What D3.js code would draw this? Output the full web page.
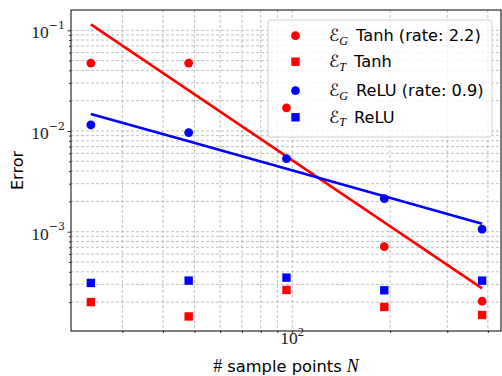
<!DOCTYPE html>
<html><head><meta charset="utf-8">
<script src="https://cdn.jsdelivr.net/npm/d3@7"></script>
<style>body{margin:0;background:#fff}svg{display:block}</style>
</head><body><svg id="c" width="502" height="376"></svg>
<script>
const N = [24, 48, 96, 192, 384];
const egTanh = [0.0473, 0.0473, 0.0170, 0.00071, 0.000204];
const etTanh = [0.000200, 0.000144, 0.000264, 0.000179, 0.000149];
const egRelu = [0.01148, 0.00964, 0.00532, 0.00213, 0.00106];
const etRelu = [0.000310, 0.000327, 0.000350, 0.000262, 0.000327];
const legendNames = ["Tanh (rate: 2.2)", "Tanh", "ReLU (rate: 0.9)", "ReLU"];
const legendSubs = ["G", "T", "G", "T"];
const yMajor = [1e-3, 1e-2, 1e-1];
const yMajorExp = ["\u22123", "\u22122", "\u22121"];
const xMajor = [100];
const xMajorExp = ["2"];

const svg = d3.select("#c");
const L = 71, R = 501, T = 10, B = 331;
const x = d3.scaleLog().domain([20.85, 439]).range([L, R]);
const y = d3.scaleLog().domain([1.033e-4, 0.1591]).range([B, T]);
const RED = "#ff0000", BLUE = "#0000ff";

function minors(lo, hi) {
  const out = [];
  for (let e = Math.floor(Math.log10(lo)); e <= Math.ceil(Math.log10(hi)); e++) {
    for (let k = 2; k <= 9; k++) { const v = k * Math.pow(10, e); if (v >= lo && v <= hi) out.push(v); }
  }
  return out;
}
const xMinor = minors(20.85, 439);
const yMinor = minors(1.033e-4, 0.1591);

// grid
const grid = svg.append("g").attr("stroke", "#b0b0b0").attr("stroke-width", 0.8).attr("stroke-dasharray", "3,2");
xMinor.concat(xMajor).forEach(v => grid.append("line").attr("x1", x(v)).attr("x2", x(v)).attr("y1", T).attr("y2", B));
yMinor.concat(yMajor).forEach(v => grid.append("line").attr("y1", y(v)).attr("y2", y(v)).attr("x1", L).attr("x2", R));

// axes ticks
svg.append("g").attr("transform", `translate(0,${B})`)
  .call(d3.axisBottom(x).tickValues(xMajor).tickSize(3.5).tickFormat("")).call(g => g.select(".domain").remove());
svg.append("g").attr("transform", `translate(0,${B})`)
  .call(d3.axisBottom(x).tickValues(xMinor).tickSize(2).tickFormat("")).call(g => g.select(".domain").remove());
svg.append("g").attr("transform", `translate(${L},0)`)
  .call(d3.axisLeft(y).tickValues(yMajor).tickSize(3.5).tickFormat("")).call(g => g.select(".domain").remove());
svg.append("g").attr("transform", `translate(${L},0)`)
  .call(d3.axisLeft(y).tickValues(yMinor).tickSize(2).tickFormat("")).call(g => g.select(".domain").remove());
svg.selectAll(".tick line").attr("stroke", "#000").attr("stroke-width", 0.8);

// frame
svg.append("rect").attr("x", L).attr("y", T).attr("width", R - L).attr("height", B - T)
  .attr("fill", "none").attr("stroke", "#000").attr("stroke-width", 1);

// tick labels
const serif = "'Liberation Serif','DejaVu Serif',serif";
yMajor.forEach((v, i) => {
  const t = svg.append("text").attr("x", 65).attr("y", y(v) + 8).attr("text-anchor", "end")
    .attr("font-family", serif).attr("font-size", 17.5).attr("fill", "#222");
  t.append("tspan").text("10");
  t.append("tspan").attr("dy", -9.5).attr("font-family", "'DejaVu Serif',serif").attr("font-size", 11).text(yMajorExp[i]);
});
xMajor.forEach((v, i) => {
  const t = svg.append("text").attr("x", x(v)).attr("y", B + 13).attr("text-anchor", "middle")
    .attr("font-family", serif).attr("font-size", 17.5).attr("fill", "#222");
  t.append("tspan").text("10");
  t.append("tspan").attr("dy", -8).attr("font-size", 12.5).text(xMajorExp[i]);
});

// axis labels
const sans = "'DejaVu Sans',sans-serif";
svg.append("text").attr("transform", `translate(22.5,${(T + B) / 2}) rotate(-90)`).attr("text-anchor", "middle")
  .attr("font-family", sans).attr("font-size", 16).text("Error");
const xl = svg.append("text").attr("x", (L + R) / 2).attr("y", 371.5).attr("text-anchor", "middle")
  .attr("font-family", sans).attr("font-size", 16.3);
xl.append("tspan").attr("font-family", serif).attr("font-size", 18).text("#");
xl.append("tspan").text(" sample points ");
xl.append("tspan").attr("font-family", serif).attr("font-style", "italic").attr("font-size", 18).text("N");

// legend box
const lg = svg.append("g");
lg.append("rect").attr("x", 268).attr("y", 20).attr("width", 224).attr("height", 117).attr("rx", 3)
  .attr("fill", "#fff").attr("fill-opacity", 0.8).attr("stroke", "#d0d0d0").attr("stroke-width", 1);
const rowsY = [35.7, 61.7, 90.7, 117.3];
const rowColor = [RED, RED, BLUE, BLUE];
const rowShape = ["c", "s", "c", "s"];
rowsY.forEach((ry, i) => {
  if (rowShape[i] === "c") lg.append("circle").attr("cx", 295.5).attr("cy", ry).attr("r", 4.4).attr("fill", rowColor[i]);
  else lg.append("rect").attr("x", 295.5 - 4.2).attr("y", ry - 4.2).attr("width", 8.4).attr("height", 8.4).attr("fill", rowColor[i]);
  const t = lg.append("text").attr("x", 329).attr("y", ry + 5.5).attr("font-family", sans).attr("font-size", 16.2).attr("fill", "#000");
  t.append("tspan").attr("font-family", "'DejaVu Sans',serif").attr("font-size", 17).text("\u2130");
  t.append("tspan").attr("dy", 3.5).attr("font-family", serif).attr("font-style", "italic").attr("font-size", 12).text(legendSubs[i]);
  t.append("tspan").attr("dy", -3.5).text("\u2002" + legendNames[i]);
});

// fit lines (least squares in log-log)
function fit(vals) {
  const lx = N.map(Math.log10), ly = vals.map(Math.log10);
  const mx = d3.mean(lx), my = d3.mean(ly);
  const s = d3.sum(lx, (v, i) => (v - mx) * (ly[i] - my)) / d3.sum(lx, v => (v - mx) ** 2);
  return N.map(n => Math.pow(10, my + s * (Math.log10(n) - mx)));
}
const line = d3.line().x(d => x(d[0])).y(d => y(d[1]));
[[egTanh, RED], [egRelu, BLUE]].forEach(([vals, col]) => {
  const f = fit(vals);
  svg.append("path").datum(N.map((n, i) => [n, f[i]])).attr("d", line)
    .attr("fill", "none").attr("stroke", col).attr("stroke-width", 2.6);
});

// markers
[[egTanh, RED], [egRelu, BLUE]].forEach(([vals, col]) => {
  svg.append("g").selectAll("circle").data(N).join("circle")
    .attr("cx", d => x(d)).attr("cy", (d, i) => y(vals[i])).attr("r", 4.4).attr("fill", col);
});
[[etTanh, RED], [etRelu, BLUE]].forEach(([vals, col]) => {
  svg.append("g").selectAll("rect").data(N).join("rect")
    .attr("x", d => x(d) - 4.2).attr("y", (d, i) => y(vals[i]) - 4.2).attr("width", 8.4).attr("height", 8.4).attr("fill", col);
});
</script></body></html>
